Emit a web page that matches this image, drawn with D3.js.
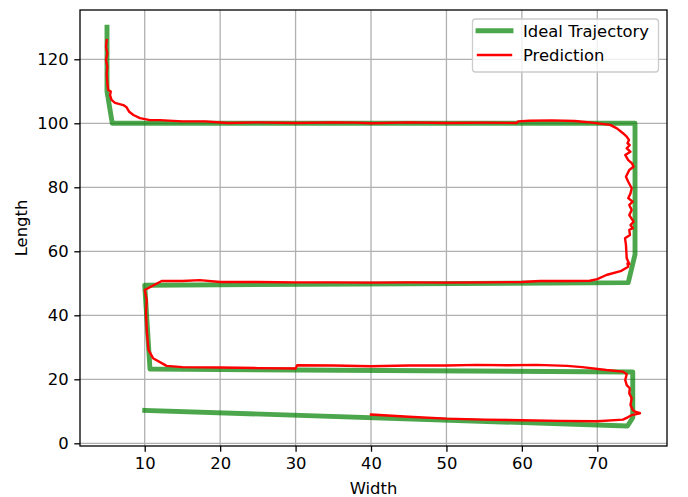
<!DOCTYPE html>
<html lang="en">
	<head>
		<meta charset="utf-8">
		<title>Trajectory</title>
		<script src="https://d3js.org/d3.v7.min.js"></script>
		<style>
			body { margin: 0; background: #fff; }
		</style>
	</head>
	<body>
		<script type="text/javascript">

			// Ideal trajectory (width, length)
			const idealX = [10, 74, 74.7, 74.7, 10.7, 10, 74.1, 75, 75, 5.7, 5, 5];
			const idealY = [10.3, 5.4, 8, 22.3, 23.2, 49.4, 50.2, 59, 100, 100, 110, 130];

			// Prediction (width, length)
			const predX = [40, 45, 50, 55, 60, 65, 70, 73.4, 74.1, 74.56, 75.66, 75.0, 74.7, 74.4, 74.56, 74.24, 74.3, 73.9, 73.7, 73.9, 73.4,
				71.2, 68, 66, 62, 58, 54, 50, 45, 40, 35, 30.2, 30, 25, 20, 15, 12.9, 11.1, 10.5, 10.3, 10.17, 10.26, 10,
				12.25, 15, 17.3, 20, 25, 30, 35, 40, 45, 50, 55, 60, 62.4, 66, 69, 70, 71.2, 73.2, 74.1, 74.0,
				74.24, 73.9, 73.8, 73.67, 74.33, 74.24, 74.7, 74.4, 74.8, 74.24, 74.56, 74.24, 74.7, 74.1, 74.4,
				74.56, 74.1, 73.8, 74.24, 74.8, 74.6, 74.1, 73.7, 74.4, 73.9, 74.3, 74.0, 74.2, 73.9, 73.4, 72.6, 71.7,
				69, 67, 64, 61, 59.5, 59.3, 55, 50, 45, 40, 38, 35, 30, 25, 21, 18, 15, 12, 10.7,
				9.37, 8.5, 7.95, 7.6, 7.16, 6.06, 5.6, 5.4, 5.5, 5.17, 5.04, 4.96, 5.04, 4.87, 5.04, 4.87, 4.96];
			const predY = [9.0, 8.3, 7.7, 7.4, 7.2, 7.0, 6.9, 7.4, 8.2, 8.8, 9.4, 9.9, 10.4, 12, 14.1, 15.6, 17.2, 18.2, 19.8, 21.6, 22.4,
				22.9, 23.8, 24.2, 24.5, 24.4, 24.5, 24.3, 24.3, 24.1, 24.3, 24.4, 23.4, 23.5, 23.7, 23.8, 24.2, 26.6, 29.2, 34.4, 40.6, 44.8, 47.9,
				50.7, 50.7, 51, 50.4, 50.4, 50.3, 50.3, 50.2, 50.3, 50.2, 50.3, 50.4, 50.7, 50.7, 50.8, 51.3, 52.6, 53.9, 55.2, 56.25,
				56.0, 57.8, 62.0, 64.1, 65.1, 66.7, 67.2, 68.2, 69.25, 71.3, 72.9, 74.5, 75.5, 76.6, 78.1,
				79.7, 81.75, 83.3, 85.4, 86.4, 87.5, 88.5, 90.1, 91.1, 92.2, 93.2, 93.75, 94.8, 95.8, 96.9, 98.4, 99.5,
				100.3, 100.7, 100.9, 100.8, 100.6, 100.1, 100.2, 100.1, 100.3, 100, 100.2, 100.3, 100.1, 100.3, 100.1, 100.6, 100.6, 101, 101,
				101.6, 102.6, 103.6, 105, 105.7, 106.4, 107.3, 108.8, 109.9, 110.4, 112.5, 115.6, 117.7, 119.8, 121.9, 123.9, 126.0];

			const xTicks = [10, 20, 30, 40, 50, 60, 70];
			const yTicks = [0, 20, 40, 60, 80, 100, 120];

			drawChart();

			function drawChart(){
				const width = 688;
				const height = 497;
				const marginTop = 10;
				const marginRight = 21;
				const marginBottom = 51;
				const marginLeft = 80;
				const fontSize = 16.4;
				const tickLen = 5.7;

				const ideal = idealX.map((d, i) => [d, idealY[i]]);
				const pred = predX.map((d, i) => [d, predY[i]]);

				const x = d3.scaleLinear()
					.domain([1.42, 79.24])
					.range([marginLeft, width - marginRight]);

				const y = d3.scaleLinear()
					.domain([-0.84, 135.4])
					.range([height - marginBottom, marginTop]);

				const svg = d3.select("body").append("svg")
					.attr("width", width)
					.attr("height", height)
					.attr("viewBox", [0, 0, width, height])
					.style("font-family", "'DejaVu Sans', sans-serif")
					.style("font-size", fontSize + "px");

				// grid
				svg.append("g")
					.attr("stroke", "#b0b0b0")
					.attr("stroke-width", 1.3)
					.selectAll("line")
					.data(xTicks)
					.join("line")
					.attr("x1", d => x(d)).attr("x2", d => x(d))
					.attr("y1", marginTop).attr("y2", height - marginBottom);

				svg.append("g")
					.attr("stroke", "#b0b0b0")
					.attr("stroke-width", 1.3)
					.selectAll("line")
					.data(yTicks)
					.join("line")
					.attr("x1", marginLeft).attr("x2", width - marginRight)
					.attr("y1", d => y(d)).attr("y2", d => y(d));

				const line = d3.line()
					.x(d => x(d[0]))
					.y(d => y(d[1]));

				svg.append("path")
					.datum(ideal)
					.attr("fill", "none")
					.attr("stroke", "green")
					.attr("stroke-opacity", 0.7)
					.attr("stroke-width", 4.9)
					.attr("stroke-linejoin", "round")
					.attr("stroke-linecap", "square")
					.attr("d", line);

				svg.append("path")
					.datum(pred)
					.attr("fill", "none")
					.attr("stroke", "red")
					.attr("stroke-width", 2.4)
					.attr("stroke-linejoin", "round")
					.attr("stroke-linecap", "square")
					.attr("d", line);

				// axes
				const xAxis = svg.append("g")
					.attr("transform", `translate(0,${height - marginBottom})`)
					.call(d3.axisBottom(x).tickValues(xTicks).tickSize(tickLen).tickPadding(5.7).tickSizeOuter(0));

				const yAxis = svg.append("g")
					.attr("transform", `translate(${marginLeft},0)`)
					.call(d3.axisLeft(y).tickValues(yTicks).tickSize(tickLen).tickPadding(5.7).tickSizeOuter(0));

				[xAxis, yAxis].forEach(g => {
					g.attr("font-family", null).attr("font-size", null);
					g.select(".domain").remove();
					g.selectAll(".tick line").attr("stroke", "#000").attr("stroke-width", 1.3);
					g.selectAll(".tick text").attr("fill", "#000");
				});

				// spines
				svg.append("rect")
					.attr("x", marginLeft)
					.attr("y", marginTop)
					.attr("width", width - marginLeft - marginRight)
					.attr("height", height - marginTop - marginBottom)
					.attr("fill", "none")
					.attr("stroke", "#000")
					.attr("stroke-width", 1.3);

				svg.append("text")
					.attr("x", (marginLeft + width - marginRight) / 2)
					.attr("y", 494)
					.attr("text-anchor", "middle")
					.text("Width");

				svg.append("text")
					.attr("transform", `translate(27,${(marginTop + height - marginBottom) / 2}) rotate(-90)`)
					.attr("text-anchor", "middle")
					.text("Length");

				// legend
				const legend = svg.append("g");

				legend.append("rect")
					.attr("x", 472.5)
					.attr("y", 19)
					.attr("width", 186)
					.attr("height", 53)
					.attr("rx", 3)
					.attr("fill", "#fff")
					.attr("fill-opacity", 0.8)
					.attr("stroke", "#cccccc")
					.attr("stroke-width", 1.3);

				const items = [
					{label: "Ideal Trajectory", color: "green", opacity: 0.7, w: 4.9, y: 30.7},
					{label: "Prediction", color: "red", opacity: 1, w: 2.4, y: 55}
				];

				items.forEach(d => {
					legend.append("line")
						.attr("x1", 478).attr("x2", 511)
						.attr("y1", d.y).attr("y2", d.y)
						.attr("stroke", d.color)
						.attr("stroke-opacity", d.opacity)
						.attr("stroke-width", d.w)
						.attr("stroke-linecap", "square");
					legend.append("text")
						.attr("x", 523)
						.attr("y", d.y + 6.3)
						.text(d.label);
				});
			}

		</script>
	</body>
</html>
